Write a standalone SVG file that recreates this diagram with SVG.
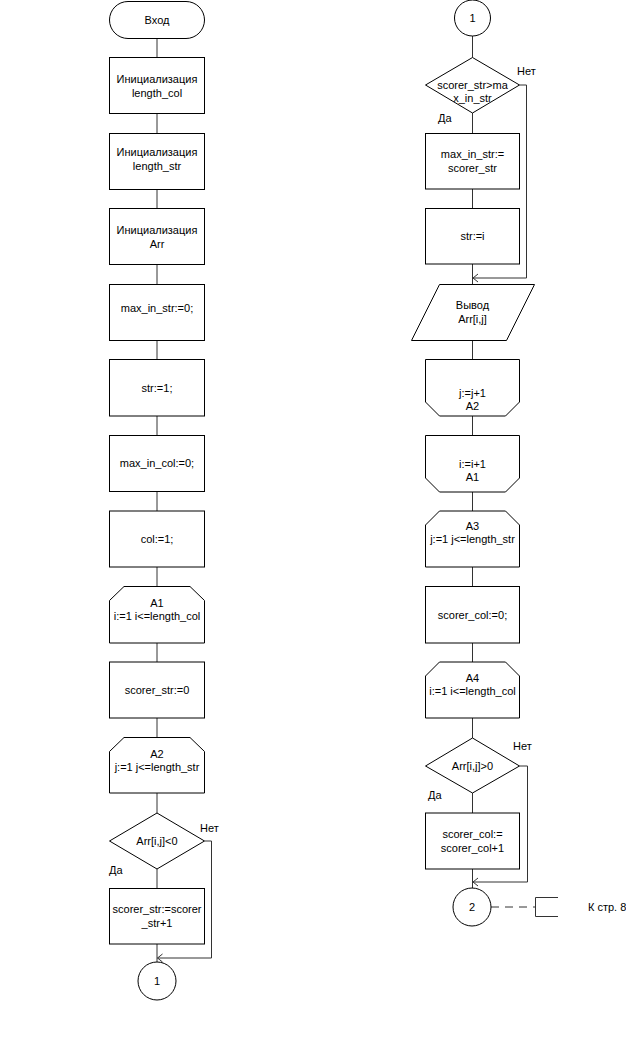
<svg xmlns="http://www.w3.org/2000/svg" width="626" height="1052" viewBox="0 0 626 1052">
<defs>
<style>
.n{fill:#fff;stroke:#000;stroke-width:1}
.c{fill:none;stroke:#333;stroke-width:1}
.d{fill:none;stroke:#333;stroke-width:1;stroke-dasharray:8 6}
text{font-family:"Liberation Sans",Arial,sans-serif;font-size:11px;fill:#000}
.m{text-anchor:middle}
</style>
<marker id="ah" viewBox="0 0 10 10" refX="9" refY="5" markerWidth="10" markerHeight="10" markerUnits="userSpaceOnUse" orient="auto">
<path d="M4,1 L9,5 L4,9" fill="none" stroke="#333" stroke-width="1"/>
</marker>
</defs>
<rect width="626" height="1052" fill="#fff"/>
<g id="connectors">
<line class="c" x1="157" y1="38.5" x2="157" y2="57.5"/>
<line class="c" x1="157" y1="113.5" x2="157" y2="133.5"/>
<line class="c" x1="157" y1="189.5" x2="157" y2="208.5"/>
<line class="c" x1="157" y1="264.5" x2="157" y2="284.5"/>
<line class="c" x1="157" y1="340.5" x2="157" y2="359.5"/>
<line class="c" x1="157" y1="416" x2="157" y2="435.5"/>
<line class="c" x1="157" y1="491.5" x2="157" y2="511"/>
<line class="c" x1="157" y1="567" x2="157" y2="586.5"/>
<line class="c" x1="157" y1="643" x2="157" y2="662"/>
<line class="c" x1="157" y1="718" x2="157" y2="737.5"/>
<line class="c" x1="157" y1="793" x2="157" y2="813"/>
<line class="c" x1="157" y1="869" x2="157" y2="888.5"/>
<line class="c" x1="157" y1="944" x2="157" y2="962"/>
<polyline class="c" points="204.5,841 211.5,841 211.5,958 157.5,958" marker-end="url(#ah)"/>
<line class="c" x1="472.5" y1="36" x2="472.5" y2="57.5"/>
<line class="c" x1="472.5" y1="113" x2="472.5" y2="133.5"/>
<line class="c" x1="472.5" y1="189" x2="472.5" y2="208.5"/>
<line class="c" x1="472.5" y1="264" x2="472.5" y2="284.5"/>
<line class="c" x1="472.5" y1="340.5" x2="472.5" y2="359.5"/>
<line class="c" x1="472.5" y1="416" x2="472.5" y2="435.5"/>
<line class="c" x1="472.5" y1="492" x2="472.5" y2="511"/>
<line class="c" x1="472.5" y1="567" x2="472.5" y2="586.5"/>
<line class="c" x1="472.5" y1="643" x2="472.5" y2="662"/>
<line class="c" x1="472.5" y1="718" x2="472.5" y2="738"/>
<line class="c" x1="472.5" y1="793" x2="472.5" y2="813"/>
<line class="c" x1="472.5" y1="869" x2="472.5" y2="888"/>
<polyline class="c" points="519.5,85 526.5,85 526.5,278 473,278" marker-end="url(#ah)"/>
<polyline class="c" points="519.5,766 527.5,766 527.5,882 473,882" marker-end="url(#ah)"/>
<line class="d" x1="491" y1="907" x2="535" y2="907"/>
<polyline class="c" points="558,897.5 535.5,897.5 535.5,916.5 558,916.5"/>
</g>
<g id="start"><rect class="n" x="109.5" y="1.5" width="95" height="37" rx="18.5"/><text class="m" x="157" y="24">Вход</text></g>
<g id="init-length-col"><rect class="n" x="109.5" y="57.5" width="95" height="56"/><text class="m" x="157" y="82.5">Инициализация</text><text class="m" x="157" y="96.5">length_col</text></g>
<g id="init-length-str"><rect class="n" x="109.5" y="133.5" width="95" height="56"/><text class="m" x="157" y="155.5">Инициализация</text><text class="m" x="157" y="169.5">length_str</text></g>
<g id="init-arr"><rect class="n" x="109.5" y="208.5" width="95" height="56"/><text class="m" x="157" y="233.5">Инициализация</text><text class="m" x="157" y="247.5">Arr</text></g>
<g id="max-in-str-0"><rect class="n" x="109.5" y="284.5" width="95" height="56"/><text class="m" x="157" y="312">max_in_str:=0;</text></g>
<g id="str-1"><rect class="n" x="109.5" y="359.5" width="95" height="56.5"/><text class="m" x="157" y="392">str:=1;</text></g>
<g id="max-in-col-0"><rect class="n" x="109.5" y="435.5" width="95" height="56"/><text class="m" x="157" y="467">max_in_col:=0;</text></g>
<g id="col-1"><rect class="n" x="109.5" y="511" width="95" height="56"/><text class="m" x="157" y="543">col:=1;</text></g>
<g id="loop-a1"><polygon class="n" points="124,586.5 190,586.5 204.5,600.5 204.5,643 109.5,643 109.5,600.5"/><text class="m" x="157" y="607">A1</text><text class="m" x="157" y="620">i:=1 i&lt;=length_col</text></g>
<g id="scorer-str-0"><rect class="n" x="109.5" y="662" width="95" height="56"/><text class="m" x="157" y="694">scorer_str:=0</text></g>
<g id="loop-a2"><polygon class="n" points="124,737.5 190,737.5 204.5,751.5 204.5,793 109.5,793 109.5,751.5"/><text class="m" x="157" y="758">A2</text><text class="m" x="157" y="771">j:=1 j&lt;=length_str</text></g>
<g id="cond-neg"><polygon class="n" points="157,813 204.5,841 157,869 109.5,841"/><text class="m" x="157" y="845">Arr[i,j]&lt;0</text><text x="200" y="832">Нет</text><text x="109" y="874">Да</text></g>
<g id="scorer-str-inc"><rect class="n" x="109.5" y="888.5" width="95" height="55.5"/><text class="m" x="157" y="913">scorer_str:=scorer</text><text class="m" x="157" y="927">_str+1</text></g>
<g id="conn-1-out"><circle class="n" cx="157" cy="981" r="19"/><text class="m" x="157" y="985">1</text></g>
<g id="conn-1-in"><circle class="n" cx="472.5" cy="18" r="18"/><text class="m" x="472.5" y="22">1</text></g>
<g id="cond-max"><polygon class="n" points="472.5,57.5 519.5,85 472.5,113 425.5,85"/><text class="m" x="472.5" y="89">scorer_str&gt;ma</text><text class="m" x="472.5" y="102">x_in_str</text><text x="517" y="75">Нет</text><text x="438" y="122">Да</text></g>
<g id="set-max-in-str"><rect class="n" x="425.5" y="133.5" width="94" height="55.5"/><text class="m" x="472.5" y="158">max_in_str:=</text><text class="m" x="472.5" y="172">scorer_str</text></g>
<g id="set-str"><rect class="n" x="425.5" y="208.5" width="94" height="55.5"/><text class="m" x="472.5" y="240">str:=i</text></g>
<g id="output"><polygon class="n" points="439.5,284.5 534.5,284.5 506.5,340.5 411.5,340.5"/><text class="m" x="472.5" y="309">Вывод</text><text class="m" x="472.5" y="323">Arr[i,j]</text></g>
<g id="loop-end-a2"><polygon class="n" points="425.5,359.5 519.5,359.5 519.5,402 505.5,416 439.5,416 425.5,402"/><text class="m" x="472.5" y="397">j:=j+1</text><text class="m" x="472.5" y="410">A2</text></g>
<g id="loop-end-a1"><polygon class="n" points="425.5,435.5 519.5,435.5 519.5,478 505.5,492 439.5,492 425.5,478"/><text class="m" x="472.5" y="468">i:=i+1</text><text class="m" x="472.5" y="481">A1</text></g>
<g id="loop-a3"><polygon class="n" points="439.5,511 505.5,511 519.5,525 519.5,567 425.5,567 425.5,525"/><text class="m" x="472.5" y="530">A3</text><text class="m" x="472.5" y="543">j:=1 j&lt;=length_str</text></g>
<g id="scorer-col-0"><rect class="n" x="425.5" y="586.5" width="94" height="56.5"/><text class="m" x="472.5" y="619">scorer_col:=0;</text></g>
<g id="loop-a4"><polygon class="n" points="439.5,662 505.5,662 519.5,676 519.5,718 425.5,718 425.5,676"/><text class="m" x="472.5" y="682">A4</text><text class="m" x="472.5" y="695">i:=1 i&lt;=length_col</text></g>
<g id="cond-pos"><polygon class="n" points="472.5,738 519.5,766 472.5,793 425.5,766"/><text class="m" x="472.5" y="770">Arr[i,j]&gt;0</text><text x="513" y="750">Нет</text><text x="428" y="799">Да</text></g>
<g id="scorer-col-inc"><rect class="n" x="425.5" y="813" width="94" height="56"/><text class="m" x="472.5" y="838">scorer_col:=</text><text class="m" x="472.5" y="852">scorer_col+1</text></g>
<g id="conn-2"><circle class="n" cx="472" cy="907" r="19"/><text class="m" x="472" y="911">2</text></g>
<g id="page-ref"><text x="588" y="911">К стр. 8</text></g>
</svg>
